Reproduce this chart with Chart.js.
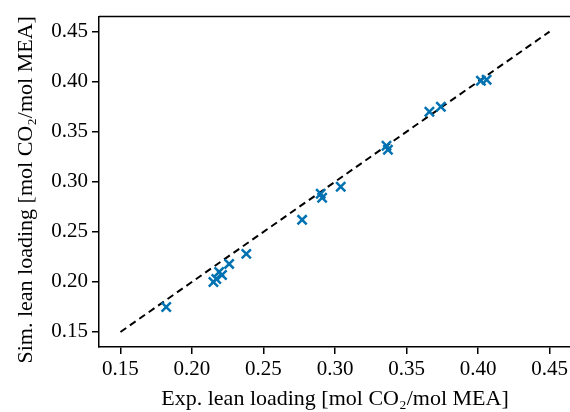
<!DOCTYPE html>
<html>
<head>
<meta charset="utf-8">
<script src="https://cdn.jsdelivr.net/npm/chart.js@4"></script>
<style>
  html, body { margin: 0; padding: 0; background: #fff; overflow: hidden; }
  #wrap { width: 580px; height: 412px; }
</style>
</head>
<body>
<div id="wrap"><canvas id="chart" width="580" height="412"></canvas></div>
<script>
// experimental vs simulated lean loading
const expLoading = [0.182, 0.215, 0.217, 0.219, 0.221, 0.226, 0.238, 0.277, 0.290, 0.291, 0.304, 0.336, 0.337, 0.366, 0.374, 0.402, 0.406];
const simLoading = [0.175, 0.200, 0.203, 0.210, 0.207, 0.218, 0.228, 0.262, 0.288, 0.284, 0.295, 0.336, 0.332, 0.370, 0.375, 0.401, 0.402];
// parity line
const lineX = [0.15, 0.45];
const lineY = [0.15, 0.45];
const yTitle = "Sim. lean loading [mol CO₂/mol MEA]";

const points = expLoading.map((x, i) => ({x: x, y: simLoading[i]}));
const parity = lineX.map((x, i) => ({x: x, y: lineY[i]}));

const family = "'Liberation Serif', 'Times New Roman', serif";
const tickFont = {family: family, size: 21};
const titleFont = {family: family, size: 22};

// top/right spine and the y title (sits a bit below the axis centre in the original)
const boxPlugin = {
    id: "box",
    afterDraw(chart) {
        const {ctx, chartArea: a} = chart;
        ctx.save();
        ctx.strokeStyle = "#000";
        ctx.lineWidth = 1.5;
        ctx.beginPath();
        ctx.moveTo(a.left, a.top);
        ctx.lineTo(a.right, a.top);
        ctx.lineTo(a.right, a.bottom);
        ctx.stroke();

        ctx.translate(26, (a.top + a.bottom) / 2 + 8);
        ctx.rotate(-Math.PI / 2);
        ctx.fillStyle = "#000";
        ctx.font = titleFont.size + "px " + family;
        ctx.textAlign = "center";
        ctx.textBaseline = "middle";
        ctx.fillText(yTitle, 0, 0);
        ctx.restore();
    }
};

new Chart(document.getElementById("chart"), {
    type: "scatter",
    data: {
        datasets: [
            {data: parity, showLine: true, borderColor: "#000", borderWidth: 2, borderDash: [7, 4.5], pointRadius: 0, order: 2},
            {data: points, pointStyle: "crossRot", pointRadius: 6.5, borderColor: "#0072B2", backgroundColor: "#0072B2", pointBorderWidth: 2.5, order: 1}
        ]
    },
    options: {
        responsive: false,
        animation: false,
        layout: {padding: {top: 15, right: 8, left: 0, bottom: 0}},
        plugins: {legend: {display: false}, tooltip: {enabled: false}},
        scales: {
            x: {
                type: "linear", min: 0.135, max: 0.465,
                border: {color: "#000", width: 1.5},
                grid: {display: true, drawOnChartArea: false, tickLength: 7, color: "#000", lineWidth: 1.5},
                ticks: {stepSize: 0.05, includeBounds: false, color: "#000", font: tickFont, padding: 3, maxRotation: 0,
                    callback: v => v.toFixed(2)},
                title: {display: true, text: "Exp. lean loading [mol CO₂/mol MEA]", color: "#000", font: titleFont, padding: {top: 0, bottom: 0}},
                afterFit(s) { s.height = 65; }
            },
            y: {
                type: "linear", min: 0.135, max: 0.465,
                border: {color: "#000", width: 1.5},
                grid: {display: true, drawOnChartArea: false, tickLength: 7, color: "#000", lineWidth: 1.5},
                ticks: {stepSize: 0.05, includeBounds: false, color: "#000", font: tickFont, padding: 4,
                    callback: v => v.toFixed(2)},
                afterFit(s) { s.width = 99; }
            }
        }
    },
    plugins: [boxPlugin]
});
</script>
</body>
</html>
